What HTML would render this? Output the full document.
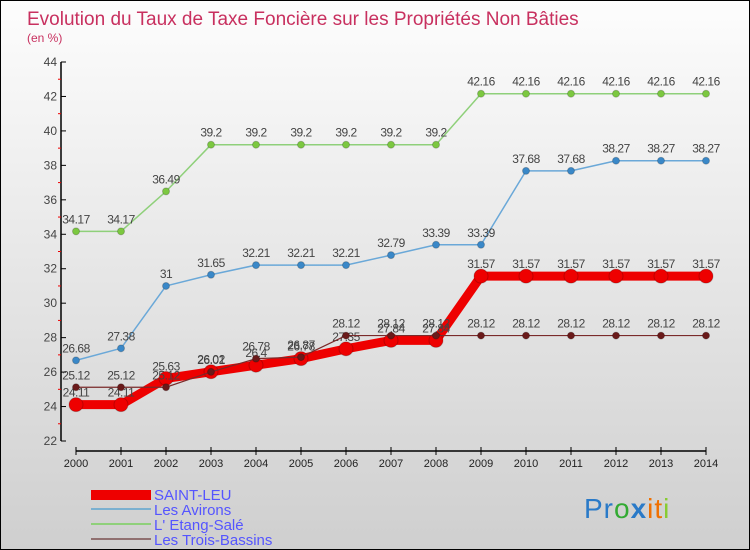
<!DOCTYPE html>
<html><head><meta charset="utf-8"><style>
body{margin:0}
#c{width:750px;height:550px;position:relative;box-sizing:border-box;border:1px solid #000;background:linear-gradient(#fdfdfd,#cfcfcf);overflow:hidden;font-family:"Liberation Sans",sans-serif}
</style></head><body>
<div id="c">
<svg id="s" width="750" height="550" style="position:absolute;left:0;top:0">
<text x="26" y="24" font-size="19" fill="#c8305f">Evolution du Taux de Taxe Foncière sur les Propriétés Non Bâties</text>
<text x="26" y="41" font-size="12" fill="#c8305f">(en %)</text>
<g id="ax"></g><g id="series"></g>
<g>
<rect x="90" y="489" width="60" height="10" fill="#e00"/>
<text x="153" y="499" font-size="15" fill="#5555ff">SAINT-LEU</text>
<line x1="90" y1="508" x2="150" y2="508" stroke="#7ab0d0" stroke-width="2"/>
<text x="153" y="514" font-size="15" fill="#5555ff">Les Avirons</text>
<line x1="90" y1="523" x2="150" y2="523" stroke="#8fd07a" stroke-width="2"/>
<text x="153" y="529" font-size="15" fill="#5555ff">L' Etang-Salé</text>
<line x1="90" y1="538" x2="150" y2="538" stroke="#907070" stroke-width="2"/>
<text x="153" y="544" font-size="15" fill="#5555ff">Les Trois-Bassins</text>
</g>
<text x="583" y="517" font-size="28" letter-spacing="1" font-family="Liberation Sans,sans-serif"><tspan fill="#2a7ac8">Pr</tspan><tspan fill="#3a3">o</tspan><tspan fill="#2a7ac8" font-weight="bold">x</tspan><tspan fill="#f07000">it</tspan><tspan fill="#8c3">i</tspan></text>
</svg></div>
<script>
const years=[2000,2001,2002,2003,2004,2005,2006,2007,2008,2009,2010,2011,2012,2013,2014];
const saintLeu=[24.11,24.11,25.63,26.02,26.4,26.78,27.35,27.84,27.84,31.57,31.57,31.57,31.57,31.57,31.57];
const avirons=[26.68,27.38,31,31.65,32.21,32.21,32.21,32.79,33.39,33.39,37.68,37.68,38.27,38.27,38.27];
const etangSale=[34.17,34.17,36.49,39.2,39.2,39.2,39.2,39.2,39.2,42.16,42.16,42.16,42.16,42.16,42.16];
const troisBassins=[25.12,25.12,25.12,26.01,26.78,26.87,28.12,28.12,28.12,28.12,28.12,28.12,28.12,28.12,28.12];
const yTicks=[22,24,26,28,30,32,34,36,38,40,42,44];
const NS="http://www.w3.org/2000/svg";
const X=i=>75+i*45, Y=v=>440-(v-22)*(379/22);
function mk(t,a,p){const e=document.createElementNS(NS,t);for(const k in a)e.setAttribute(k,a[k]);p.appendChild(e);return e;}
const ax=document.getElementById('ax');
const yl=mk('line',{x1:60,y1:61,x2:60,y2:440,stroke:'#000','stroke-width':1.5},ax);


const xl=mk('line',{x1:75,y1:450,x2:705,y2:450,stroke:'#000','stroke-width':1.5},ax);


yTicks.forEach((v,i)=>{mk('line',{x1:60,y1:Y(v),x2:65,y2:Y(v),stroke:'#000'},ax);
 if(i<yTicks.length-1)mk('line',{x1:57,y1:Y(v+1),x2:60,y2:Y(v+1),stroke:'#e00'},ax);
 const t=mk('text',{x:56,y:Y(v)+4,'font-size':12,fill:'#444','text-anchor':'end'},ax);t.textContent=v;
 
 });
years.forEach((y,i)=>{mk('line',{x1:X(i),y1:446,x2:X(i),y2:454,stroke:'#000'},ax);
 const t=mk('text',{x:X(i),y:466,'font-size':11,fill:'#222','text-anchor':'middle'},ax);t.textContent=y;
 
 });
const sg=document.getElementById('series');
function draw(vals,name,col,w,r,fill){const g=mk('g',{},sg);
 
 
 mk('polyline',{points:vals.map((v,i)=>X(i)+','+Y(v)).join(' '),fill:'none',stroke:col,'stroke-width':w,'stroke-linejoin':'round'},g);
 vals.forEach((v,i)=>{const c=mk('circle',{cx:X(i),cy:Y(v),r:r,fill:fill,stroke:'#0003'},g);
  
  
  const t=mk('text',{x:X(i),y:Y(v)-8,'font-size':12,fill:'#444','text-anchor':'middle','letter-spacing':'-0.5'},g);t.textContent=v;
  
  });}
draw(etangSale,'etang-sale','#8fd07a',1.5,3.5,'#7cc840');
draw(avirons,'avirons','#6aa8d8',1.5,3.5,'#3a88c8');
draw(saintLeu,'saint-leu','#ee0000',9,7,'#ee0000');
draw(troisBassins,'trois-bassins','#7a2a2a',1.2,3.5,'#6a1a1a');
</script></body></html>
